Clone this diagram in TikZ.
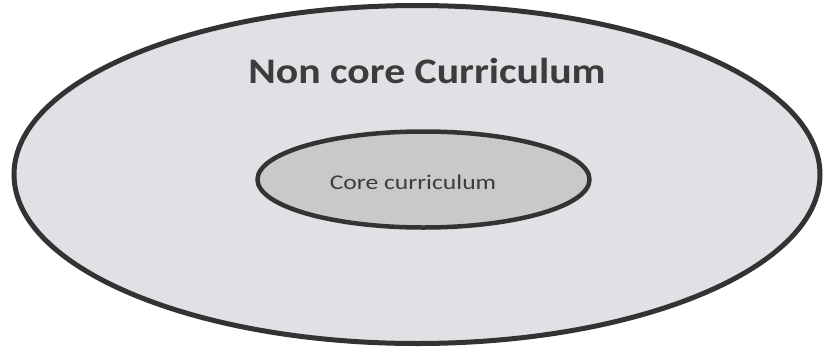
\documentclass[tikz,border=0pt]{standalone}
\usepackage{fontspec}
\setmainfont{Carlito}
\definecolor{outerfill}{HTML}{E0E1E4}
\definecolor{innerfill}{HTML}{C9C9CB}
\definecolor{edge}{HTML}{333333}
\definecolor{txt}{HTML}{3C3C3C}
\begin{document}
\begin{tikzpicture}[x=1pt,y=-1pt,
  ring/.style={draw=edge,line width=5pt}]
\useasboundingbox[fill=white] (0,0) rectangle (823,349);
\path[ring,fill=outerfill] (417,174.5) ellipse [x radius=403, y radius=169];
\path[ring,fill=innerfill,line width=4.5pt] (423.5,179.5) ellipse [x radius=166, y radius=48];
\node[text=txt,font=\bfseries\fontsize{36}{40}\selectfont,xscale=1.16] (outer) at (427,71) {Non core Curriculum};
\node[text=txt,font=\fontsize{21}{24}\selectfont,xscale=1.22] (inner) at (413,182) {Core curriculum};
\end{tikzpicture}
\end{document}
